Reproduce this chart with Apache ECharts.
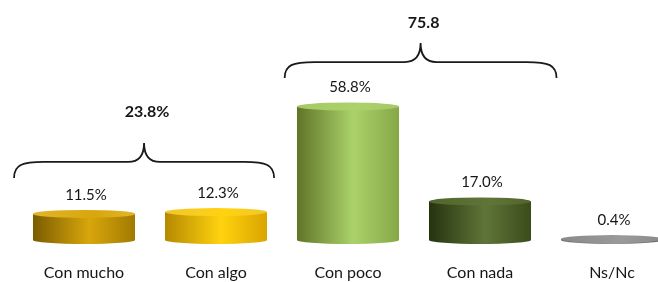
<!DOCTYPE html>
<html>
<head>
<meta charset="utf-8">
<script src="https://cdn.jsdelivr.net/npm/echarts@6/dist/echarts.min.js"></script>
<style>
    html, body { margin: 0; padding: 0; background: #fff; }
    #main { width: 658px; height: 282px; }
</style>
</head>
<body>
<div id="main"></div>
<script>
// datos
var categorias = ['Con mucho', 'Con algo', 'Con poco', 'Con nada', 'Ns/Nc'];
var valores = [11.5, 12.3, 58.8, 17.0, 0.4];
var etiquetas = ['11.5%', '12.3%', '58.8%', '17.0%', '0.4%'];

// llaves (grupos)
var grupoDesde = [0, 2];
var grupoHasta = [1, 3];
var grupoTexto = ['23.8%', '75.8'];
var grupoNivel = [34.4, 78.4];
var grupoNivelTexto = [56.4, 95.5];

// estilo: colores de cada cilindro [izquierda, centro, derecha, tapa]
var colores = [
    ['#7a5c00', '#d8a60c', '#a27a00', '#e2b52a'],
    ['#b58900', '#ffd30f', '#d9a400', '#f2c62a'],
    ['#5f7428', '#abd26a', '#86a848', '#a7c866'],
    ['#26330f', '#5f7538', '#3b4c1c', '#52652c'],
    ['#6a6a6a', '#9a9a9a', '#5a5a5a', '#8a8a8a']
];
// estilo: margen de cada llave respecto a la banda (izq, der)
var llaveMargen = [[0.53, 0.44], [0.48, 0.58]];
var fuente = 'Lato, "Open Sans", sans-serif';

function degradado(c) {
    return {
        type: 'linear', x: 0, y: 0, x2: 1, y2: 0,
        colorStops: [
            {offset: 0, color: c[0]},
            {offset: 0.55, color: c[1]},
            {offset: 1, color: c[2]}
        ]
    };
}

function elipse(cx, cy, rx, ry, fill) {
    return {
        type: 'path',
        shape: {
            pathData: 'M' + (cx - rx) + ',' + cy +
                ' A' + rx + ',' + ry + ' 0 1,0 ' + (cx + rx) + ',' + cy +
                ' A' + rx + ',' + ry + ' 0 1,0 ' + (cx - rx) + ',' + cy + ' Z'
        },
        style: {fill: fill}
    };
}

function renderCilindro(params, api) {
    var idx = api.value(0);
    var top = api.coord([idx, api.value(1)]);
    var base = api.coord([idx, 0]);
    var w = api.size([1, 0])[0] * 0.773;
    var rx = w / 2, ry = 4;
    var c = colores[idx];
    return {
        type: 'group',
        children: [
            elipse(top[0], base[1], rx, ry, degradado(c)),
            {
                type: 'rect',
                shape: {x: top[0] - rx, y: top[1], width: w, height: base[1] - top[1]},
                style: {fill: degradado(c)}
            },
            elipse(top[0], top[1], rx, ry, {
                type: 'linear', x: 0, y: 0, x2: 1, y2: 0,
                colorStops: [{offset: 0, color: c[3]}, {offset: 0.6, color: c[1]}, {offset: 1, color: c[3]}]
            }),
            {
                type: 'text',
                style: {
                    text: etiquetas[idx], x: top[0] + 2, y: top[1] - 19,
                    align: 'center', verticalAlign: 'middle',
                    font: '15px ' + fuente, fill: '#161616'
                }
            }
        ]
    };
}

function renderLlave(params, api) {
    var i = params.dataIndex;
    var a = api.coord([grupoDesde[i], grupoNivel[i]]);
    var b = api.coord([grupoHasta[i], grupoNivel[i]]);
    var t = api.coord([(grupoDesde[i] + grupoHasta[i]) / 2, grupoNivelTexto[i]]);
    var band = api.size([1, 0])[0];
    var x0 = a[0] - band * llaveMargen[i][0], x1 = b[0] + band * llaveMargen[i][1];
    var xc = (x0 + x1) / 2;
    var yh = a[1], ye = yh + 16, yp = yh - 19;
    var d = 'M' + x0 + ',' + ye +
        ' C' + x0 + ',' + (yh + 3) + ' ' + (x0 + 8) + ',' + yh + ' ' + (x0 + 30) + ',' + yh +
        ' L' + (xc - 16) + ',' + yh +
        ' C' + (xc - 5) + ',' + yh + ' ' + xc + ',' + (yh - 6) + ' ' + xc + ',' + yp +
        ' C' + xc + ',' + (yh - 6) + ' ' + (xc + 5) + ',' + yh + ' ' + (xc + 16) + ',' + yh +
        ' L' + (x1 - 30) + ',' + yh +
        ' C' + (x1 - 8) + ',' + yh + ' ' + x1 + ',' + (yh + 3) + ' ' + x1 + ',' + ye;
    return {
        type: 'group',
        children: [
            {
                type: 'path',
                shape: {pathData: d},
                style: {fill: null, stroke: '#1a1a1a', lineWidth: 1.8}
            },
            {
                type: 'text',
                style: {
                    text: grupoTexto[i], x: xc + 3, y: t[1],
                    align: 'center', verticalAlign: 'middle',
                    font: 'bold 16px ' + fuente, fill: '#161616'
                }
            }
        ]
    };
}

var myChart = echarts.init(document.getElementById('main'));
var option = {
    animation: false,
    grid: {left: 84, right: 46, top: 13, bottom: 42},
    xAxis: {
        type: 'category',
        data: categorias,
        boundaryGap: false,
        axisLine: {show: false},
        axisTick: {show: false},
        axisLabel: {
            margin: 25,
            fontSize: 16,
            fontFamily: fuente,
            color: '#161616'
        }
    },
    yAxis: {
        type: 'value', min: 0, max: 100,
        show: false,
        splitLine: {show: false}
    },
    series: [
        {
            type: 'custom',
            renderItem: renderCilindro,
            clip: false,
            data: valores.map(function (v, i) { return [i, v]; })
        },
        {
            type: 'custom',
            renderItem: renderLlave,
            clip: false,
            data: grupoTexto.map(function (t, i) { return [grupoDesde[i], grupoNivel[i]]; })
        }
    ]
};
myChart.setOption(option);
</script>
</body>
</html>
